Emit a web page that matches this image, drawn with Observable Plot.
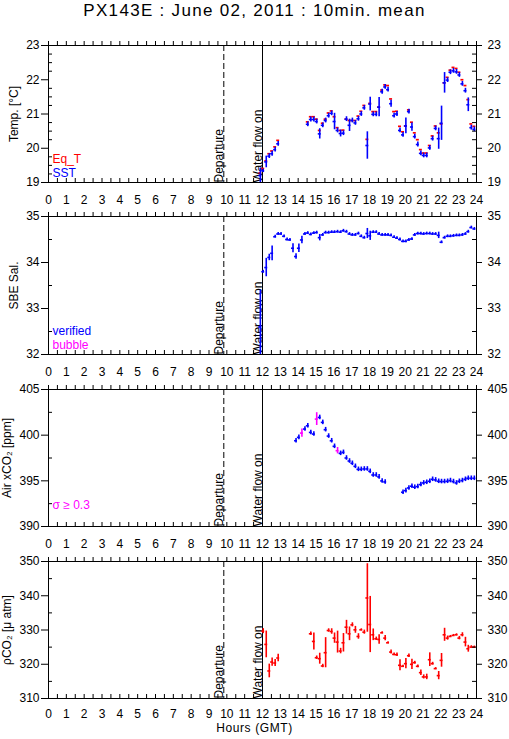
<!DOCTYPE html>
<html><head><meta charset="utf-8">
<script src="https://cdn.jsdelivr.net/npm/d3@7"></script>
<script src="https://cdn.jsdelivr.net/npm/@observablehq/plot@0.6"></script>
<style>
html,body{margin:0;padding:0;background:#fff;overflow:hidden;}
#wrap{position:relative;width:509px;height:739px;font-family:"Liberation Sans",Arial,sans-serif;color:#000;}
#title{position:absolute;left:0;top:0;width:509px;text-align:center;font-size:17px;letter-spacing:1.3px;line-height:22px;}
#xlabel{position:absolute;left:0;top:720px;width:509px;text-align:center;font-size:12px;letter-spacing:0.6px;line-height:16px;}
</style></head><body>
<div id="wrap"><div id="title">PX143E : June 02, 2011 : 10min. mean</div><div id="xlabel">Hours (GMT)</div></div>
<script>
// ---------- shared ----------
const hourLabels = [0,1,2,3,4,5,6,7,8,9,10,11,12,13,14,15,16,17,18,19,20,21,22,23,24];
const eventNames = ["Departure", "Water flow on"];
const eventTimes = [9.83, 12.0];

// ---------- panel 1 : temperature ----------
const tempTicks = [19,20,21,22,23];
const tempTime = [11.88,12.04,12.21,12.38,12.54,12.71,12.88,
 14.54,14.71,14.88,15.04,15.21,15.38,15.54,15.71,15.88,16.04,16.21,16.38,16.54,16.71,16.88,
 17.04,17.21,17.38,17.54,17.71,17.88,18.04,18.21,18.38,18.54,18.71,18.88,19.04,19.21,19.38,19.54,19.71,19.88,
 20.04,20.21,20.38,20.54,20.71,20.88,21.04,21.21,21.38,21.54,21.71,21.88,22.04,22.21,22.38,22.54,22.71,22.88,
 23.04,23.21,23.38,23.54,23.71,23.88];
const eqT = [19.28,19.41,19.63,19.84,19.92,20.04,20.23,
 20.77,20.92,20.92,20.85,20.52,20.73,20.85,21.03,21.09,20.92,20.60,20.52,20.53,20.85,20.81,
 20.81,20.81,20.94,21.08,21.25,20.26,21.31,21.07,21.07,21.20,21.70,21.85,21.83,21.44,21.07,21.08,20.64,20.48,
 20.65,21.12,20.76,20.45,20.25,19.96,19.86,19.86,20.08,20.36,20.65,20.45,20.71,21.91,22.07,22.28,22.36,22.33,
 22.22,22.00,21.83,21.42,20.71,20.64];
const sst = [19.20,19.34,19.60,19.77,19.84,19.96,20.13,
 20.70,20.84,20.84,20.78,20.42,20.67,20.81,20.95,21.02,20.78,20.52,20.43,20.44,20.85,20.67,
 20.81,20.74,20.86,21.00,21.18,20.08,21.29,20.99,20.99,21.20,21.65,21.79,21.71,21.30,20.95,21.00,20.52,20.39,
 20.65,21.07,20.62,20.34,20.11,19.85,19.79,19.79,20.01,20.28,20.58,20.28,20.73,21.91,21.99,22.22,22.26,22.23,
 22.14,21.88,21.68,21.27,20.60,20.55];
const sstSd = [0.22,0.05,0.17,0.07,0.07,0.07,0.07,
 0.07,0.07,0.07,0.07,0.15,0.07,0.07,0.07,0.07,0.24,0.07,0.10,0.07,0.07,0.18,
 0.07,0.07,0.07,0.07,0.07,0.40,0.20,0.07,0.07,0.28,0.07,0.07,0.07,0.10,0.07,0.07,0.07,0.07,
 0.23,0.07,0.12,0.07,0.07,0.07,0.07,0.07,0.07,0.07,0.07,0.31,0.50,0.30,0.07,0.07,0.07,0.07,
 0.07,0.07,0.07,0.20,0.07,0.07];

// ---------- panel 2 : salinity ----------
const salTicks = [32,33,34,35];
const salTime = [11.88,12.04,12.21,12.38,12.54,12.71,12.88,13.04,13.21,13.38,13.54,13.71,13.88,14.04,14.21,14.38,
 14.54,14.71,14.88,15.04,15.21,15.38,15.54,15.71,15.88,16.04,16.21,16.38,16.54,16.71,16.88,
 17.04,17.21,17.38,17.54,17.71,17.88,18.04,18.21,18.38,18.54,18.71,18.88,19.04,19.21,19.38,19.54,19.71,19.88,
 20.04,20.21,20.38,20.54,20.71,20.88,21.04,21.21,21.38,21.54,21.71,21.88,22.04,22.21,22.38,22.54,22.71,22.88,
 23.04,23.21,23.38,23.54,23.71,23.88];
const sal = [32.60,33.80,33.89,34.11,34.20,34.56,34.62,34.62,34.57,34.50,34.49,34.31,34.13,34.31,34.49,34.62,
 34.64,34.61,34.64,34.65,34.54,34.60,34.65,34.65,34.66,34.66,34.67,34.66,34.69,34.67,34.62,
 34.60,34.60,34.63,34.57,34.54,34.63,34.58,34.66,34.66,34.62,34.60,34.60,34.60,34.59,34.55,34.53,34.50,34.46,
 34.46,34.49,34.51,34.60,34.63,34.63,34.62,34.63,34.63,34.62,34.62,34.59,34.44,34.54,34.57,34.57,34.58,34.59,
 34.59,34.60,34.62,34.67,34.76,34.73];
const salSd = [0.80,0.03,0.20,0.07,0.16,0.03,0.03,0.03,0.03,0.03,0.03,0.10,0.06,0.09,0.08,0.03,
 0.03,0.03,0.03,0.03,0.07,0.03,0.03,0.03,0.03,0.03,0.03,0.03,0.03,0.03,0.03,
 0.03,0.03,0.03,0.03,0.03,0.11,0.10,0.03,0.03,0.03,0.03,0.03,0.03,0.03,0.03,0.03,0.03,0.03,
 0.03,0.03,0.03,0.03,0.03,0.03,0.03,0.03,0.03,0.03,0.03,0.07,0.03,0.03,0.03,0.03,0.03,0.03,
 0.03,0.03,0.03,0.03,0.03,0.03];

// ---------- panel 3 : air xCO2 ----------
const airTicks = [390,395,400,405];
const airTime = [13.88,14.04,14.21,14.38,14.54,14.71,14.88,15.04,15.21,15.38,15.54,15.71,15.88,16.04,16.21,16.38,
 16.54,16.71,16.88,17.04,17.21,17.38,17.54,17.71,17.88,18.04,18.21,18.38,18.54,18.71,18.88,
 19.88,20.04,20.21,20.38,20.54,20.71,20.88,21.04,21.21,21.38,21.54,21.71,21.88,22.04,22.21,22.38,22.54,22.71,22.88,
 23.04,23.21,23.38,23.54,23.71,23.88];
const airCO2 = [399.39,399.76,400.23,400.67,401.03,400.30,400.12,401.76,401.94,401.40,400.60,399.90,399.39,398.78,398.30,398.01,
 398.12,397.50,397.17,396.92,396.59,396.26,396.26,396.30,396.30,396.04,395.64,395.64,395.43,394.99,394.88,
 393.75,393.93,394.22,394.41,394.30,394.37,394.59,394.77,394.84,394.95,395.17,395.10,394.95,394.92,394.92,394.95,395.03,394.92,394.77,
 394.95,395.03,395.17,395.28,395.28,395.28];
const airSd = [0.25,0.25,0.45,0.25,0.25,0.25,0.25,0.70,0.25,0.25,0.25,0.25,0.25,0.25,0.35,0.25,
 0.25,0.25,0.25,0.25,0.25,0.25,0.25,0.25,0.25,0.25,0.25,0.25,0.25,0.25,0.25,
 0.25,0.25,0.25,0.25,0.25,0.25,0.25,0.25,0.25,0.25,0.25,0.25,0.25,0.25,0.25,0.25,0.25,0.25,0.25,
 0.25,0.25,0.25,0.25,0.25,0.25];
const sigmaLimit = 0.3;

// ---------- panel 4 : pCO2 ----------
const pTicks = [310,320,330,340,350];
const pTime = [12.04,12.21,12.38,12.54,12.71,12.88,
 14.71,14.88,15.04,15.21,15.38,15.54,15.71,15.88,16.04,16.21,16.38,16.54,16.71,16.88,
 17.04,17.21,17.38,17.54,17.71,17.88,18.04,18.21,18.38,18.54,18.71,18.88,19.04,19.21,19.38,19.54,19.71,19.88,
 20.04,20.21,20.38,20.54,20.71,20.88,21.04,21.21,21.38,21.54,21.71,21.88,22.04,22.21,22.38,22.54,22.71,22.88,
 23.04,23.21,23.38,23.54,23.71,23.88];
const pCO2 = [329.66,325.79,318.04,320.65,320.36,321.82,
 328.89,326.66,321.91,321.62,319.49,323.37,329.85,329.56,327.63,326.47,323.85,326.27,330.82,328.89,
 331.50,330.05,328.11,330.05,329.37,339.35,331.60,328.60,327.43,327.24,329.18,327.63,326.27,323.56,322.88,322.78,319.69,319.40,
 320.17,322.49,319.98,320.46,319.40,317.55,316.30,316.30,321.33,320.17,318.72,316.68,321.14,328.60,327.63,328.11,328.40,328.60,
 327.63,328.60,326.47,324.53,325.01,325.01];
const pSd = [0.73,3.9,2.0,1.2,1.0,1.1,
 0.5,2.5,0.5,1.6,0.5,4.4,0.5,0.8,1.5,3.2,0.8,2.7,2.0,2.0,
 0.6,1.0,0.8,0.3,0.6,10.0,8.2,1.7,0.5,1.4,0.3,0.8,0.3,0.6,0.4,0.5,1.6,0.3,
 1.5,0.5,1.5,0.4,0.4,0.8,0.6,0.8,2.0,0.4,0.3,1.2,2.0,1.9,0.6,0.3,0.3,0.3,
 0.5,0.6,1.4,1.0,0.4,0.3];

// ---------- drawing ----------
const BLUE = "#0000ff", RED = "#ff0000", MAG = "#ff00ff";
const W = 509, ML = 48, MR = 33, FW = W - ML - MR;
const FONT = "'Liberation Sans', Arial, sans-serif";
const halfHours = d3.range(0, 24.01, 0.5);
const wrap = document.getElementById("wrap");

function rowsOf(t, v, s) { return t.map((x, i) => ({t: x, v: v[i], s: s[i]})); }
function cross(rows, color, sw = 1.6) {
  return [
    Plot.ruleX(rows, {x: "t", y1: d => d.v - d.s, y2: d => d.v + d.s, stroke: color, strokeWidth: sw, clip: true}),
    Plot.ruleY(rows, {y: "v", x1: d => d.t - 1/12, x2: d => d.t + 1/12, stroke: color, strokeWidth: sw, clip: true})
  ];
}
function dash(rows, color) {
  return Plot.ruleY(rows, {y: "v", x1: d => d.t - 1/12, x2: d => d.t + 1/12, stroke: color, strokeWidth: 1.7, clip: true});
}

function panel({top, mt, fh, mb, domain, ticks, minor, ylabel, ylabelDx, labelPad, data, legend}) {
  const height = mt + fh + mb;
  const svg = Plot.plot({
    width: W, height,
    marginLeft: ML, marginRight: MR, marginTop: mt, marginBottom: mb,
    x: {domain: [0, 24]},
    y: {domain},
    color: {type: "identity"},
    style: {fontFamily: FONT, fontSize: "12px", background: "transparent", overflow: "visible", color: "black"},
    marks: [
      // events
      Plot.ruleX([eventTimes[0]], {stroke: "black", strokeWidth: 1, strokeDasharray: "6,3"}),
      Plot.ruleX([eventTimes[1]], {stroke: "black", strokeWidth: 1}),
      Plot.text(eventNames.map((n, i) => ({n, t: eventTimes[i]})), {
        x: "t", text: "n", frameAnchor: "bottom", rotate: -90, textAnchor: "start",
        lineAnchor: "bottom", fontSize: 12, fill: "black", dx: -1
      }),
      ...data,
      // ticks on x (all pointing up)
      Plot.ruleX(halfHours, {stroke: "black", insetTop: -4, insetBottom: fh}),
      Plot.ruleX(halfHours, {stroke: "black", insetTop: fh - 4, insetBottom: 0}),
      // minor y ticks (inward)
      Plot.ruleY(minor, {stroke: "black", insetLeft: 0, insetRight: FW - 4}),
      Plot.ruleY(minor, {stroke: "black", insetLeft: FW - 4, insetRight: 0}),
      Plot.axisY({anchor: "left", ticks, tickFormat: d => String(d), tickSize: 7, tickPadding: 2, label: null, fontSize: 12}),
      Plot.axisY({anchor: "right", ticks, tickFormat: d => String(d), tickSize: 5, tickPadding: 6, label: null, fontSize: 12}),
      Plot.axisX({anchor: "bottom", ticks: hourLabels, tickFormat: d => String(d), tickSize: 0, tickPadding: labelPad, label: null, fontSize: 12}),
      Plot.frame({stroke: "black"}),
      Plot.text([ylabel], {frameAnchor: "left", dx: ylabelDx, rotate: -90, textAnchor: "middle", lineAnchor: "middle", fontSize: 12, fill: "black"}),
      ...legend.map((l) => Plot.text([l.text], {frameAnchor: "bottom-left", dx: 4, dy: l.dy, textAnchor: "start", lineAnchor: "middle", fontSize: 12, fill: l.color}))
    ]
  });
  svg.style.position = "absolute";
  svg.style.left = "0px";
  svg.style.top = top + "px";
  wrap.appendChild(svg);
}

const tempRowsEq = rowsOf(tempTime, eqT, tempTime.map(() => 0));
const tempRowsSst = rowsOf(tempTime, sst, sstSd);
panel({top: 28, mt: 17, fh: 137, mb: 28, domain: [19, 23], ticks: tempTicks,
  minor: d3.range(19, 23.001, 0.25).filter(v => !tempTicks.includes(v)),
  ylabel: "Temp. [°C]", ylabelDx: -34, labelPad: 13,
  data: [dash(tempRowsEq, RED), ...cross(tempRowsSst, BLUE)],
  legend: [{text: "Eq_T", color: RED, dy: -23}, {text: "SST", color: BLUE, dy: -9}]});

panel({top: 210, mt: 6, fh: 138, mb: 28, domain: [32, 35], ticks: salTicks,
  minor: [32.5, 33.5, 34.5],
  ylabel: "SBE Sal.", ylabelDx: -34, labelPad: 13,
  data: cross(rowsOf(salTime, sal, salSd), BLUE),
  legend: [{text: "verified", color: BLUE, dy: -23}, {text: "bubble", color: MAG, dy: -9}]});

const airRows = rowsOf(airTime, airCO2, airSd);
panel({top: 382, mt: 7, fh: 137, mb: 28, domain: [390, 405], ticks: airTicks,
  minor: [392.5, 397.5, 402.5],
  ylabel: "Air xCO₂ [ppm]", ylabelDx: -41, labelPad: 13,
  data: cross(airRows, d => d.s >= sigmaLimit ? MAG : BLUE),
  legend: [{text: "σ ≥ " + sigmaLimit, color: MAG, dy: -21}]});

panel({top: 554, mt: 7, fh: 137, mb: 25, domain: [310, 350], ticks: pTicks,
  minor: [315, 325, 335, 345],
  ylabel: "ρCO₂ [μ atm]", ylabelDx: -41, labelPad: 11,
  data: cross(rowsOf(pTime, pCO2, pSd), RED),
  legend: []});
</script>
</body></html>
